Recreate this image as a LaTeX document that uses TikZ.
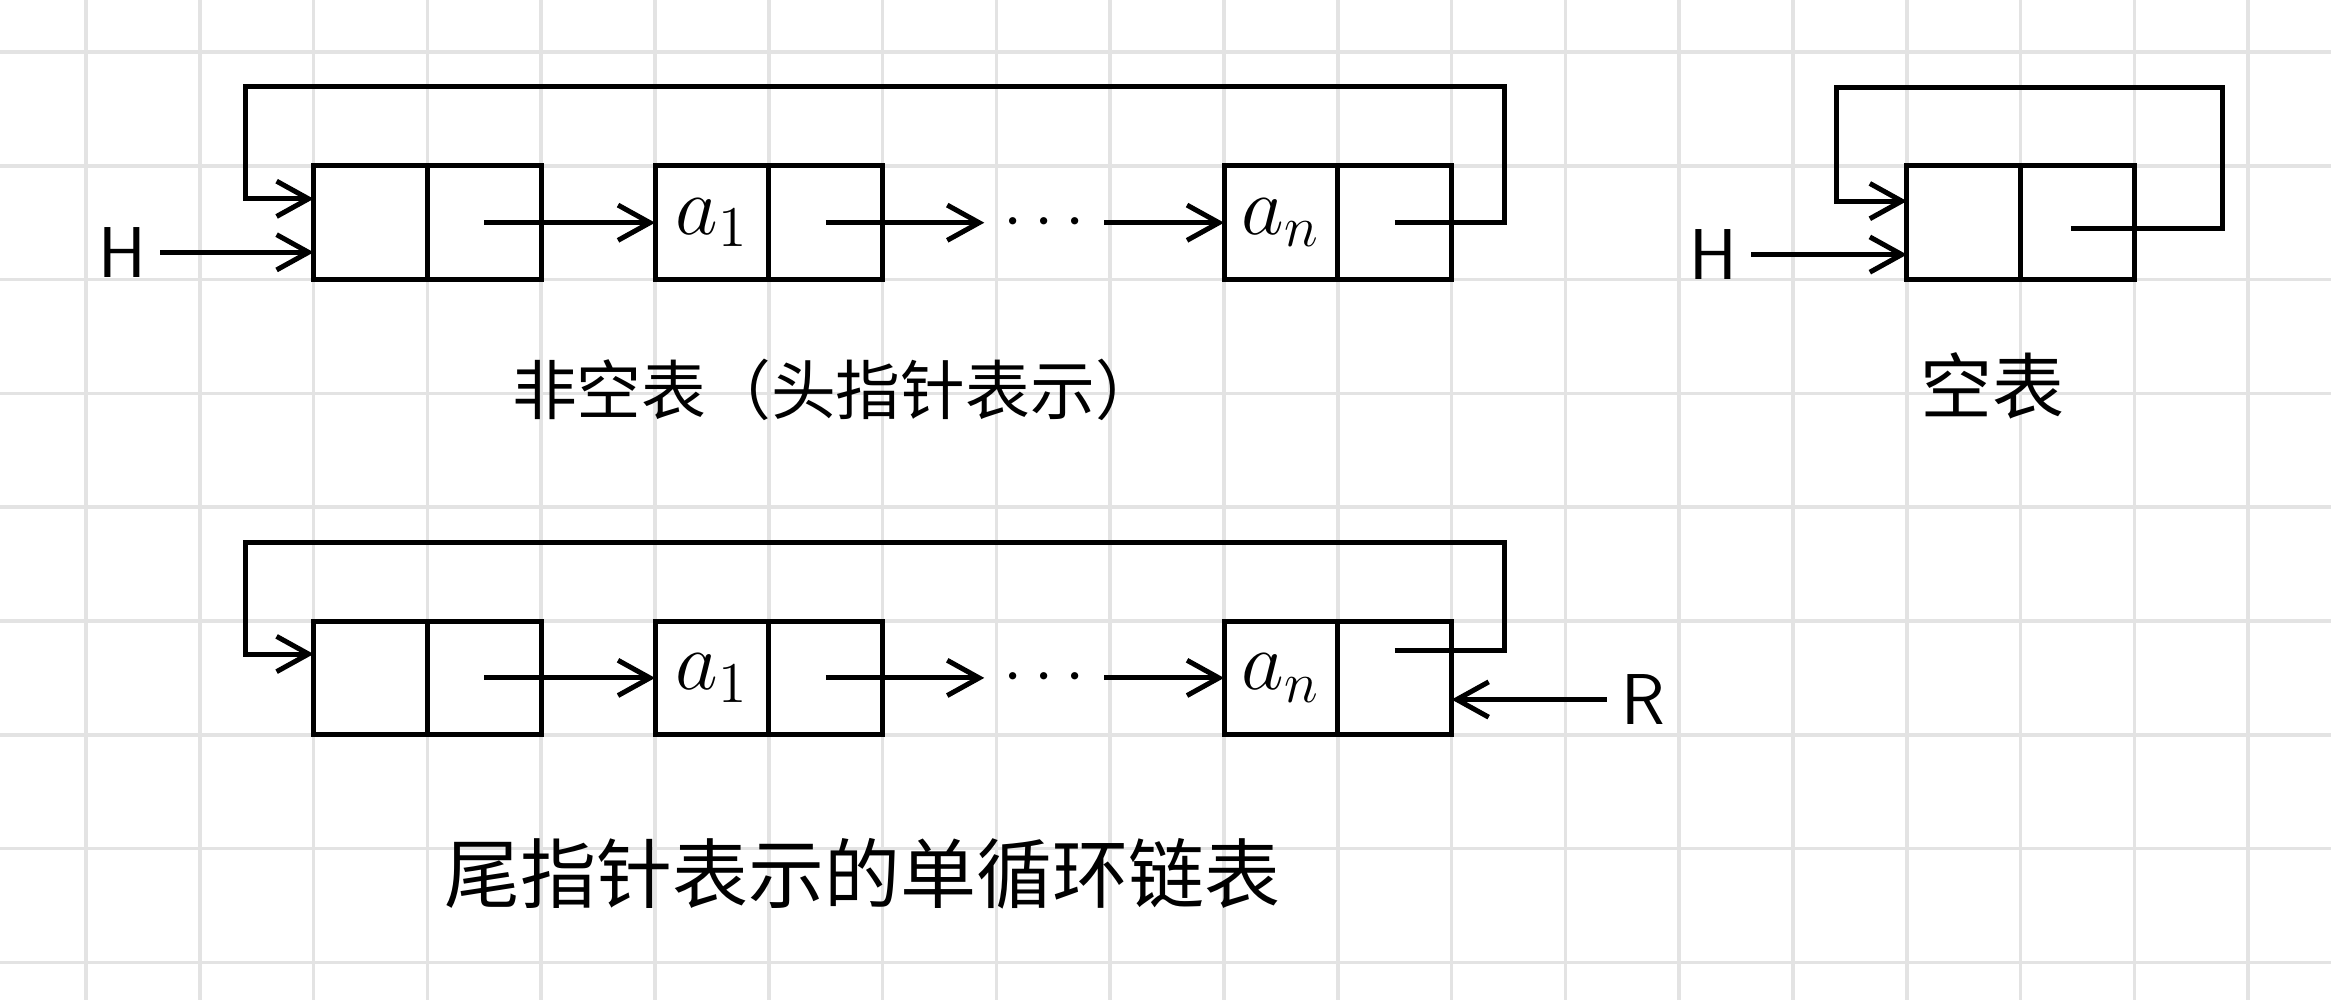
\documentclass[tikz,border=0pt]{standalone}
\usepackage{fontspec}
\newfontfamily\cjk{Noto Sans CJK SC}
\usetikzlibrary{arrows.meta}

\begin{document}
\begin{tikzpicture}[
  cell/.style={draw, line width=1.25pt, minimum width=1cm, minimum height=1cm, inner sep=0pt, outer sep=0pt},
  ptr/.style={line width=1.25pt, -{Straight Barb[length=2.8mm, width=3.1mm]}},
  lbl/.style={font=\fontsize{18}{22}\selectfont\sffamily},
  elem/.style={font=\fontsize{22}{26}\selectfont},
  dots/.style={minimum width=1.04cm, inner sep=0pt, font=\fontsize{16}{20}\selectfont},
  cap/.style={font=\cjk\fontsize{#1}{#1}\selectfont},
  gridline/.style={draw=black!11, line width=0.9pt}
]
  \useasboundingbox (-0.756,0.457) rectangle (19.727,-8.33);
  \fill[white] (-0.756,0.457) rectangle (19.727,-8.33);
  \draw[gridline] (-0.756,-8.33) grid (19.727,0.457);

  % Top row: non-empty list, head pointer
  \node[cell] (T0d) at (2.5,-1.5) {};
  \node[cell] (T0n) at (3.5,-1.5) {};
  \node[cell, elem] (T1d) at (5.5,-1.5) {$a_1$};
  \node[cell] (T1n) at (6.5,-1.5) {};
  \node[dots] (D1) at (8.42,-1.5) {$\cdots$};
  \node[cell, elem] (Tnd) at (10.5,-1.5) {$a_n$};
  \node[cell] (Tnn) at (11.5,-1.5) {};
  \node[lbl] (H1) at (0.32,-1.76) {H};

  \draw[ptr] (H1) -- (H1 -| T0d.west);
  \draw[ptr] (T0n.center) -- (T1d);
  \draw[ptr] (T1n.center) -- (D1);
  \draw[ptr] (D1) -- (Tnd);
  \draw[ptr] (Tnn.center) -- ++(0.96,0) |- (1.4,-0.3) |- ([yshift=0.21cm]T0d.west);

  \node[cap=16.2] (C1) at (6.59,-2.97) {非空表（头指针表示）};

  % Empty list
  \node[cell] (E0d) at (16.5,-1.5) {};
  \node[cell] (E0n) at (17.5,-1.5) {};
  \node[lbl] (H2) at (14.30,-1.78) {H};

  \draw[ptr] (H2) -- (H2 -| E0d.west);
  \draw[ptr] ([shift={(-0.06,-0.05)}]E0n.center) -- ++(1.33,0) |- (15.38,-0.31) |- ([yshift=0.19cm]E0d.west);

  \node[cap=18] (C2) at (16.75,-2.93) {空表};

  % Bottom row: tail pointer
  \node[cell] (B0d) at (2.5,-5.5) {};
  \node[cell] (B0n) at (3.5,-5.5) {};
  \node[cell, elem] (B1d) at (5.5,-5.5) {$a_1$};
  \node[cell] (B1n) at (6.5,-5.5) {};
  \node[dots] (D2) at (8.42,-5.5) {$\cdots$};
  \node[cell, elem] (Bnd) at (10.5,-5.5) {$a_n$};
  \node[cell] (Bnn) at (11.5,-5.5) {};
  \node[lbl] (R) at (13.68,-5.69) {R};

  \draw[ptr] (B0n.center) -- (B1d);
  \draw[ptr] (B1n.center) -- (D2);
  \draw[ptr] (D2) -- (Bnd);
  \draw[ptr] ([yshift=0.24cm]Bnn.center) -- ++(0.96,0) |- (1.4,-4.31) |- ([yshift=0.21cm]B0d.west);
  \draw[ptr] (R) -- (R -| Bnn.east);

  \node[cap=19] (C3) at (6.82,-7.22) {尾指针表示的单循环链表};
\end{tikzpicture}
\end{document}
